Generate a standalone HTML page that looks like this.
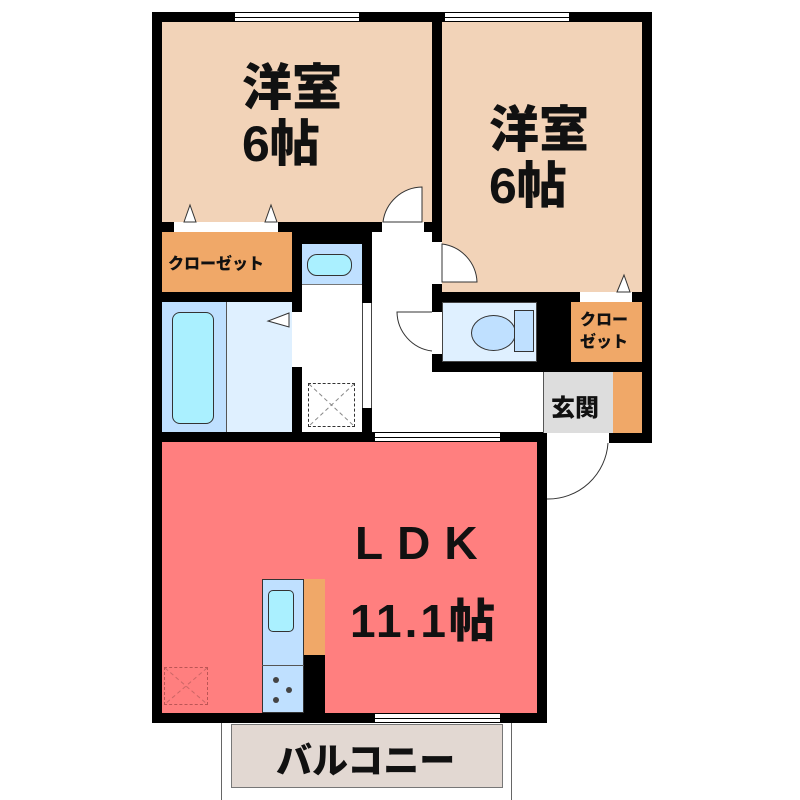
<!DOCTYPE html>
<html><head><meta charset="utf-8"><style>
body{margin:0;width:800px;height:800px;background:#fff;position:relative;overflow:hidden;font-family:"Liberation Sans","Noto Sans CJK JP",sans-serif}
div{position:absolute;box-sizing:border-box}
.b{background:#000}
.t{font-weight:900;color:#111;white-space:nowrap}
.win{background:#fff;border-top:1px solid #000;border-bottom:1px solid #000}
.win::after{content:"";position:absolute;left:0;right:0;top:4px;border-top:1px solid #000}
</style></head><body>
<div class="b" style="left:152px;top:12px;width:500px;height:431px"></div>
<div class="b" style="left:152px;top:432px;width:395px;height:291px"></div>
<div style="left:162px;top:22px;width:270px;height:200px;background:#f2d3b8"></div>
<div style="left:442px;top:22px;width:200px;height:270px;background:#f2d3b8"></div>
<div style="left:162px;top:232px;width:130px;height:60px;background:#f0a868"></div>
<div style="left:174px;top:222px;width:104px;height:10px;background:#fff"></div>
<div style="left:162px;top:302px;width:64px;height:130px;background:#bfe0ff"></div>
<div style="left:226px;top:302px;width:66px;height:130px;background:#dff0ff;border-left:1px solid #555"></div>
<div style="left:172px;top:312px;width:42px;height:112px;background:#aaf0ff;border:1px solid #333;border-radius:8px"></div>
<div style="left:292px;top:312px;width:10px;height:55px;background:#fff"></div>
<div style="left:302px;top:244px;width:60px;height:188px;background:#fff"></div>
<div style="left:302px;top:244px;width:60px;height:41px;background:#bfe0ff;border-bottom:1px solid #777"></div>
<div style="left:307px;top:254px;width:45px;height:22px;background:#aaf0ff;border:1px solid #333;border-radius:10px"></div>
<div style="left:308px;top:383px;width:47px;height:44px;border:1px dashed #333"></div>
<div style="left:362px;top:303px;width:10px;height:105px;background:#fff;border-left:1px solid #444;border-right:1px solid #444"></div>
<div style="left:372px;top:232px;width:60px;height:200px;background:#fff"></div>
<div style="left:372px;top:372px;width:171px;height:60px;background:#fff"></div>
<div style="left:382px;top:222px;width:42px;height:10px;background:#fff"></div>
<div style="left:432px;top:242px;width:10px;height:42px;background:#fff"></div>
<div style="left:432px;top:312px;width:10px;height:42px;background:#fff"></div>
<div style="left:442px;top:302px;width:95px;height:60px;background:#dff0ff;border:1px solid #444"></div>
<div style="left:471px;top:315px;width:45px;height:36px;background:#bfe0ff;border:1px solid #333;border-radius:50%"></div>
<div style="left:514px;top:310px;width:20px;height:42px;background:#bfe0ff;border:1px solid #333"></div>
<div style="left:571px;top:302px;width:71px;height:60px;background:#f0a868"></div>
<div style="left:580px;top:292px;width:52px;height:10px;background:#fff"></div>
<div style="left:543px;top:372px;width:70px;height:61px;background:#ddd;border-left:1px solid #555"></div>
<div style="left:613px;top:372px;width:29px;height:61px;background:#f0a868"></div>
<div style="left:547px;top:433px;width:62px;height:10px;background:#fff"></div>
<div style="left:162px;top:442px;width:375px;height:271px;background:#ff7f7f"></div>
<div style="left:262px;top:579px;width:42px;height:134px;background:#bfe0ff;border:1px solid #333"></div>
<div style="left:268px;top:590px;width:26px;height:42px;background:#aaf0ff;border:1px solid #333;border-radius:5px"></div>
<div style="left:262px;top:665px;width:42px;height:1px;background:#555"></div>
<div style="left:304px;top:579px;width:21px;height:76px;background:#f0a868"></div>
<div style="left:304px;top:655px;width:21px;height:58px;background:#000"></div>
<div style="left:273px;top:677px;width:6px;height:6px;border-radius:50%;background:#444"></div>
<div style="left:286px;top:687px;width:6px;height:6px;border-radius:50%;background:#444"></div>
<div style="left:273px;top:697px;width:6px;height:6px;border-radius:50%;background:#444"></div>
<div style="left:164px;top:667px;width:44px;height:38px;border:1px dashed #b55"></div>
<div class="win" style="left:235px;top:12px;width:124px;height:10px"></div>
<div class="win" style="left:445px;top:12px;width:124px;height:10px"></div>
<div class="win" style="left:375px;top:432px;width:125px;height:10px"></div>
<div class="win" style="left:375px;top:713px;width:125px;height:10px"></div>
<div style="left:221px;top:723px;width:291px;height:77px;border-left:1px solid #666;border-right:1px solid #666"></div>
<div style="left:231px;top:724px;width:272px;height:64px;background:#e2d8d2;border:1px solid #777"></div>
<svg style="position:absolute;left:0;top:0" width="800" height="800">
<g fill="#fff" stroke="#333" stroke-width="1">
<path d="M422 187 A40 40 0 0 0 383 222 L422 222Z"/>
<path d="M442 244 A40 40 0 0 1 477 282 L442 282Z"/>
<path d="M432 312 L397 312 A40 40 0 0 0 432 351"/>
<path d="M547 499 A60 60 0 0 0 608 443" fill="none"/>
<path d="M184 222 L190 205 L196 222Z M265 222 L271 205 L277 222Z M617 292 L624 275 L630 292Z M289 313 L268 321 L289 327Z"/>
</g>
<g stroke="#888" stroke-dasharray="4,3"><line x1="309" y1="384" x2="354" y2="426"/><line x1="354" y1="384" x2="309" y2="426"/></g>
<g stroke="#c66" stroke-dasharray="4,3"><line x1="165" y1="668" x2="207" y2="704"/><line x1="207" y1="668" x2="165" y2="704"/></g>
</svg>
<div class="t" style="left:242px;top:60px;font-size:50px;line-height:56px">洋室<br>6帖</div>
<div class="t" style="left:489px;top:102px;font-size:50px;line-height:56px">洋室<br>6帖</div>
<div class="t" style="left:168px;top:250px;font-size:16px">クローゼット</div>
<div class="t" style="left:580px;top:310px;font-size:16px;line-height:22px">クロー<br>ゼット</div>
<div class="t" style="left:551px;top:388px;font-size:24px">玄関</div>
<div class="t" style="left:355px;top:516px;font-size:46px;letter-spacing:14px">LDK</div>
<div class="t" style="left:350px;top:585px;font-size:46px;letter-spacing:3px">11.1帖</div>
<div class="t" style="left:276px;top:732px;font-size:36px">バルコニー</div>
</body></html>
